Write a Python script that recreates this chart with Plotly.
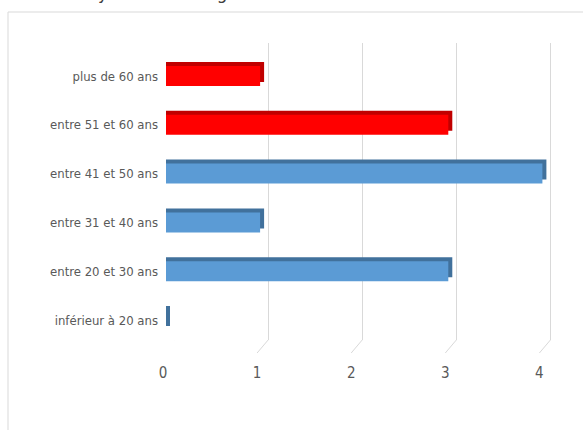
import plotly.graph_objects as go

# ---- data ----
categories = ["inférieur à 20 ans", "entre 20 et 30 ans", "entre 31 et 40 ans",
              "entre 41 et 50 ans", "entre 51 et 60 ans", "plus de 60 ans"]
values = [0, 3, 1, 4, 3, 1]
x_ticks = [0, 1, 2, 3, 4]
title_text = "Pyramide des âges"

# ---- style ----
face_colors = ["#5B9BD5", "#5B9BD5", "#5B9BD5", "#5B9BD5", "#FF0000", "#FF0000"]
edge_colors = ["#41719C", "#41719C", "#41719C", "#41719C", "#C00000", "#C00000"]
W, H = 583, 430
FONT = "DejaVu Sans Condensed, Liberation Sans Narrow, sans-serif"
TXT = "#595959"

CAT_PX = 48.8       # pixels per category
UNIT_PX = 94.1      # pixels per x unit
BAR_PX = 20
BEVEL = 4           # depth of the 3-D bevel, pixels

# geometry
front_x0 = 166
grid_x0 = 174
y_top_px, y_bot_px = 43, 340
y_center0 = 320  # pixel center of first category

y_lo = -(y_bot_px - y_center0) / CAT_PX
y_hi = (y_center0 - y_top_px) / CAT_PX
ydom = [(H - y_bot_px) / H, (H - y_top_px) / H]
x_range = 4.3
bevel_units = BEVEL / UNIT_PX

fig = go.Figure()

# grid (back plane) subplot needs a (hidden) trace to exist
fig.add_trace(go.Scatter(x=[None], y=[None], xaxis="x", yaxis="y",
                         showlegend=False, hoverinfo="skip"))

# shadow (top bevel + right side face), extended by the bevel depth and shifted up
fig.add_trace(go.Bar(
    y=categories, x=[v + bevel_units for v in values], orientation="h",
    xaxis="x2", yaxis="y",
    width=BAR_PX / CAT_PX, offset=-BAR_PX / CAT_PX / 2 + BEVEL / CAT_PX,
    marker=dict(color=edge_colors, line=dict(width=0)),
    hoverinfo="skip", showlegend=False,
))
# front faces
fig.add_trace(go.Bar(
    y=categories, x=values, orientation="h",
    xaxis="x2", yaxis="y",
    width=BAR_PX / CAT_PX, offset=-BAR_PX / CAT_PX / 2,
    marker=dict(color=face_colors, line=dict(width=0)),
    showlegend=False,
))

fig.update_layout(
    width=W, height=H,
    margin=dict(l=0, r=0, t=0, b=0, autoexpand=False),
    paper_bgcolor="white", plot_bgcolor="rgba(0,0,0,0)",
    barmode="overlay",
    font=dict(family=FONT, color=TXT, size=13),
    xaxis=dict(domain=[grid_x0 / W, (grid_x0 + UNIT_PX * x_range) / W],
               range=[0, x_range], tickvals=x_ticks, showticklabels=False,
               showgrid=True, gridcolor="#D9D9D9", gridwidth=1,
               zeroline=False, showline=False, ticks="", anchor="y", automargin=False),
    xaxis2=dict(domain=[front_x0 / W, (front_x0 + UNIT_PX * x_range) / W],
                range=[0, x_range], tickvals=x_ticks,
                showgrid=False, zeroline=False, showline=False, ticks="",
                anchor="free", position=(H - 362) / H, side="bottom",
                ticklabelshift=-3, automargin=False,
                tickfont=dict(family=FONT, size=15, color=TXT)),
    yaxis=dict(domain=ydom, range=[y_lo, y_hi], type="category",
               categoryorder="array", categoryarray=categories,
               showgrid=False, zeroline=False, showline=False, ticks="",
               anchor="free", position=(front_x0 - 8) / W, automargin=False,
               tickfont=dict(family=FONT, size=13, color=TXT)),
)

# floor diagonals under each gridline
for v in x_ticks:
    fig.add_shape(type="line", xref="x", xsizemode="pixel", xanchor=v, x0=0, x1=-11,
                  yref="paper", ysizemode="pixel", yanchor=ydom[0], y0=0, y1=-13,
                  line=dict(color="#D9D9D9", width=1), layer="below")

# chart frame
fig.add_shape(type="rect", xref="paper", yref="paper",
              x0=8 / W, x1=1.02, y0=-0.02, y1=(H - 12) / H,
              line=dict(color="#D9D9D9", width=1), fillcolor="rgba(0,0,0,0)", layer="below")

# title (mostly cut off at the top, as in the reference)
fig.add_annotation(text=title_text, xref="paper", yref="paper",
                   x=167 / W, y=1, xanchor="center", yanchor="bottom", yshift=-5,
                   showarrow=False, font=dict(family=FONT, size=18.5, color="#404040"))

fig.write_html("out.html")
